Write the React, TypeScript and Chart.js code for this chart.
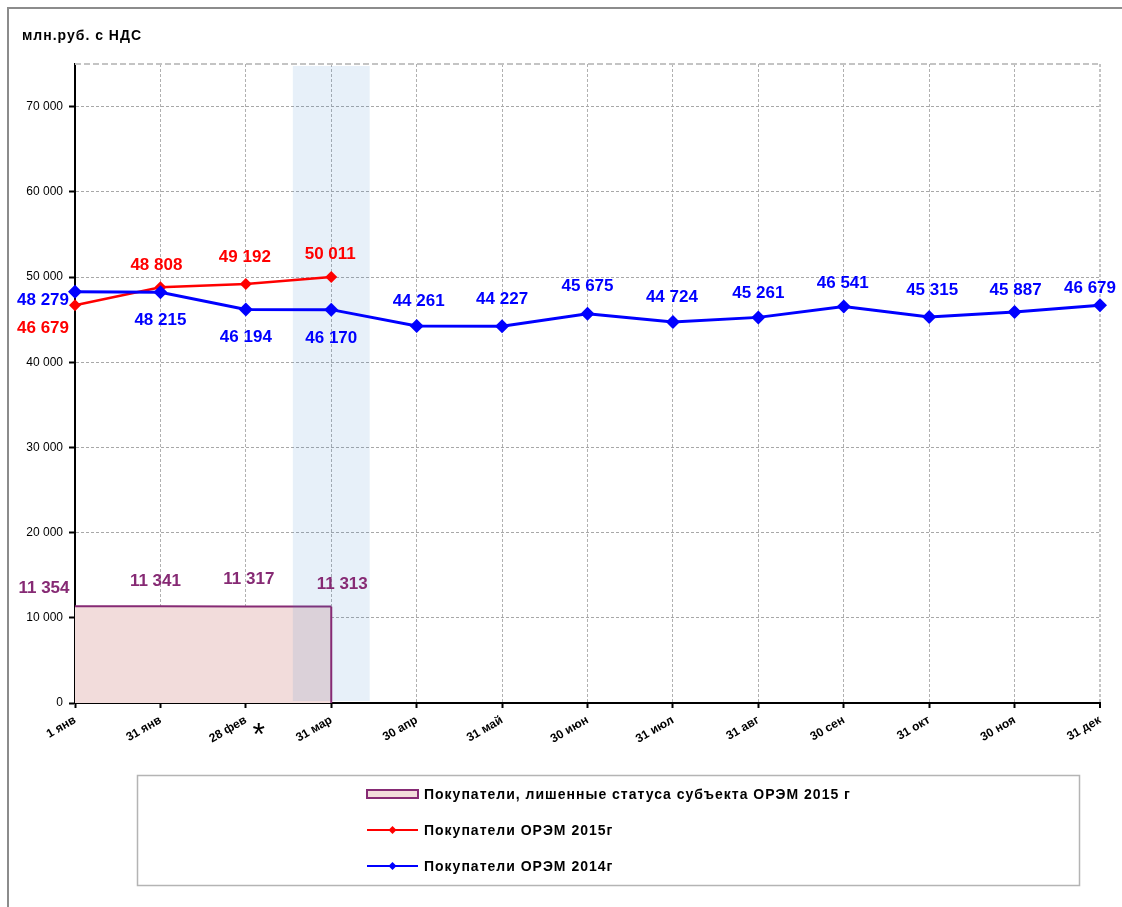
import React, { useEffect, useRef } from 'react';
import { Chart, registerables } from 'chart.js';

Chart.register(...registerables);

// ---------- data ----------
const categories = ['1 янв', '31 янв', '28 фев', '31 мар', '30 апр', '31 май', '30 июн', '31 июл', '31 авг', '30 сен', '31 окт', '30 ноя', '31 дек'];
const buyers2014 = [48279, 48215, 46194, 46170, 44261, 44227, 45675, 44724, 45261, 46541, 45315, 45887, 46679];
const buyers2015 = [46679, 48808, 49192, 50011];
const excluded2015 = [11354, 11341, 11317, 11313];
const seriesLabels = ['Покупатели ОРЭМ 2014г', 'Покупатели ОРЭМ 2015г', 'Покупатели, лишенные статуса субъекта ОРЭМ 2015 г'];
const axisTitle = 'млн.руб. с НДС';
const yTickValues = [0, 10000, 20000, 30000, 40000, 50000, 60000, 70000];
const yMax = 75000;
const highlightIndex = 3; // текущий месяц
const markedIndex = 2; // подпись со звёздочкой

// ---------- styles ----------
const BLUE = '#0000ff';
const RED = '#ff0000';
const PURPLE = '#862a74';
const PINK = '#f2dcdb';
const BAND = 'rgba(60,130,205,0.12)';
const FONT = 'Arial, "Liberation Sans", sans-serif';
const bandHalf = 0.45;
const blueDx = [-32, 0, 0, 0, 2, 0, 0, -1, 0, -1, 3, 1, -10];
const blueDy = [9, 28, 28, 29, -25, -27, -28, -25, -24, -23, -27, -22, -17];
const redDx = [-32, -4, -1, -1];
const redDy = [23, -22, -27, -23];
const purpleDx = [-31, -5, 3, 11];
const purpleDy = [-18, -25, -27, -22];

const fmt = (v: number) => String(v).replace(/\B(?=(\d{3})+(?!\d))/g, ' ');

const decorPlugin = {
  id: 'decor',
  beforeDraw(chart: any) {
    const ctx = chart.ctx;
    ctx.save();
    ctx.fillStyle = '#ffffff';
    ctx.fillRect(0, 0, chart.width, chart.height);
    ctx.strokeStyle = '#8c8c8c';
    ctx.lineWidth = 2;
    ctx.beginPath();
    ctx.moveTo(8, chart.height);
    ctx.lineTo(8, 8);
    ctx.lineTo(chart.width, 8);
    ctx.stroke();
    ctx.fillStyle = '#000';
    ctx.font = `bold 14px ${FONT}`;
    (ctx as any).letterSpacing = '1px';
    ctx.textBaseline = 'alphabetic';
    ctx.textAlign = 'left';
    ctx.fillText(axisTitle, 22, 40);
    ctx.restore();
  },
  beforeDatasetsDraw(chart: any) {
    const ctx = chart.ctx;
    const { left, right, top } = chart.chartArea;
    ctx.save();
    ctx.strokeStyle = '#c4c4c4';
    ctx.lineWidth = 2;
    ctx.setLineDash([6, 3]);
    ctx.beginPath();
    ctx.moveTo(left, top);
    ctx.lineTo(right, top);
    ctx.stroke();
    ctx.restore();
  },
  afterDatasetDraw(chart: any, args: any) {
    if (args.index !== 2) return;
    const ctx = chart.ctx;
    const xs = chart.scales.x;
    const ys = chart.scales.y;
    const y0 = ys.getPixelForValue(0);
    const meta = args.meta;
    const last = meta.data[meta.data.length - 1];
    ctx.save();
    const x1 = xs.getPixelForValue(highlightIndex - bandHalf);
    const x2 = xs.getPixelForValue(highlightIndex + bandHalf);
    ctx.fillStyle = BAND;
    ctx.fillRect(x1, chart.chartArea.top + 2, x2 - x1, y0 - chart.chartArea.top - 4);
    ctx.strokeStyle = PURPLE;
    ctx.lineWidth = 2;
    ctx.beginPath();
    ctx.moveTo(last.x, last.y);
    ctx.lineTo(last.x, y0);
    ctx.stroke();
    ctx.restore();
  },
  afterDatasetsDraw(chart: any) {
    const ctx = chart.ctx;
    ctx.save();
    ctx.font = `bold 17px ${FONT}`;
    ctx.textAlign = 'center';
    ctx.textBaseline = 'middle';
    const groups = [
      { idx: 2, color: PURPLE, vals: excluded2015, dx: purpleDx, dy: purpleDy },
      { idx: 1, color: RED, vals: buyers2015, dx: redDx, dy: redDy },
      { idx: 0, color: BLUE, vals: buyers2014, dx: blueDx, dy: blueDy },
    ];
    groups.forEach((g) => {
      const meta = chart.getDatasetMeta(g.idx);
      ctx.fillStyle = g.color;
      meta.data.forEach((pt: any, i: number) => {
        ctx.fillText(fmt(g.vals[i]), pt.x + g.dx[i], pt.y + g.dy[i]);
      });
    });
    ctx.restore();
  },
  afterDraw(chart: any) {
    const ctx = chart.ctx;
    const xs = chart.scales.x;
    ctx.save();
    // asterisk
    ctx.fillStyle = '#000';
    ctx.font = `32px ${FONT}`;
    ctx.textAlign = 'center';
    ctx.textBaseline = 'middle';
    ctx.fillText('*', xs.getPixelForValue(markedIndex) + 13, chart.chartArea.bottom + 33);
    // legend
    ctx.strokeStyle = '#b4b4b4';
    ctx.lineWidth = 1.5;
    ctx.strokeRect(137.5, 775.5, 942, 110);
    const sx = 367;
    const sw = 51;
    const rows = [794, 830, 866];
    const order = [2, 1, 0];
    ctx.font = `bold 14px ${FONT}`;
    (ctx as any).letterSpacing = '1px';
    ctx.textAlign = 'left';
    order.forEach((di, r) => {
      const ds = chart.data.datasets[di];
      const y = rows[r];
      if (di === 2) {
        ctx.fillStyle = PINK;
        ctx.fillRect(sx, y - 4, sw, 8);
        ctx.strokeStyle = PURPLE;
        ctx.lineWidth = 2;
        ctx.strokeRect(sx, y - 4, sw, 8);
      } else {
        ctx.strokeStyle = ds.borderColor;
        ctx.lineWidth = 2;
        ctx.beginPath();
        ctx.moveTo(sx, y);
        ctx.lineTo(sx + sw, y);
        ctx.stroke();
        ctx.fillStyle = ds.borderColor;
        const cx = sx + sw / 2;
        ctx.beginPath();
        ctx.moveTo(cx - 4, y);
        ctx.lineTo(cx, y - 4);
        ctx.lineTo(cx + 4, y);
        ctx.lineTo(cx, y + 4);
        ctx.closePath();
        ctx.fill();
      }
      ctx.fillStyle = '#000';
      ctx.fillText(ds.label, sx + sw + 6, y + 1);
    });
    ctx.restore();
  },
};

export default function App() {
  const ref = useRef<HTMLCanvasElement | null>(null);
  useEffect(() => {
    if (!ref.current) return;
    const chart = new Chart(ref.current, {
      type: 'line',
      data: {
        labels: categories,
        datasets: [
          {
            label: seriesLabels[0],
            data: buyers2014,
            borderColor: BLUE,
            backgroundColor: BLUE,
            borderWidth: 3,
            pointStyle: 'rectRot',
            pointRadius: 7,
            pointBorderWidth: 0,
            tension: 0,
          },
          {
            label: seriesLabels[1],
            data: buyers2015,
            borderColor: RED,
            backgroundColor: RED,
            borderWidth: 2.5,
            pointStyle: 'rectRot',
            pointRadius: 6,
            pointBorderWidth: 0,
            tension: 0,
          },
          {
            label: seriesLabels[2],
            data: excluded2015,
            borderColor: PURPLE,
            backgroundColor: PINK,
            borderWidth: 2,
            pointRadius: 0,
            fill: 'origin',
            tension: 0,
          },
        ],
      },
      options: {
        responsive: false,
        animation: false,
        devicePixelRatio: 1,
        layout: { padding: { top: 64, right: 22, left: 0, bottom: 0 } },
        plugins: {
          legend: { display: false },
          tooltip: { enabled: false },
          title: { display: false },
        },
        scales: {
          x: {
            type: 'category',
            offset: false,
            afterFit: (s: any) => { s.height = 204; },
            grid: {
              color: (c: any) => (c.index === categories.length - 1 ? '#c4c4c4' : '#b0b0b0'),
              lineWidth: (c: any) => (c.index === categories.length - 1 ? 2 : 1),
              tickColor: '#000',
              tickLength: 5,
              tickWidth: 2,
              tickBorderDash: [],
              offset: false,
            },
            border: { display: true, color: '#000', width: 2, dash: [3, 2] },
            ticks: {
              autoSkip: false,
              maxRotation: 30,
              minRotation: 30,
              padding: 5,
              color: '#000',
              font: { family: FONT, size: 12, weight: 'bold' },
            },
          },
          y: {
            min: 0,
            max: yMax,
            afterFit: (s: any) => { s.width = 75; },
            afterBuildTicks: (s: any) => { s.ticks = yTickValues.map((v) => ({ value: v })); },
            grid: {
              color: '#a8a8a8',
              lineWidth: 1,
              tickColor: '#000',
              tickLength: 6,
              tickWidth: 2,
              tickBorderDash: [],
            },
            border: { display: true, color: '#000', width: 2, dash: [3, 2] },
            ticks: {
              padding: 6,
              color: '#000',
              font: { family: FONT, size: 12 },
              callback: (v: any) => fmt(Number(v)),
            },
          },
        },
      },
      plugins: [decorPlugin],
    } as any);
    return () => chart.destroy();
  }, []);
  return (
    <div style={{ position: 'absolute', left: 0, top: 0, width: 1122, height: 907, background: '#fff' }}>
      <canvas ref={ref} width={1122} height={907} style={{ width: 1122, height: 907, display: 'block' }} />
    </div>
  );
}
